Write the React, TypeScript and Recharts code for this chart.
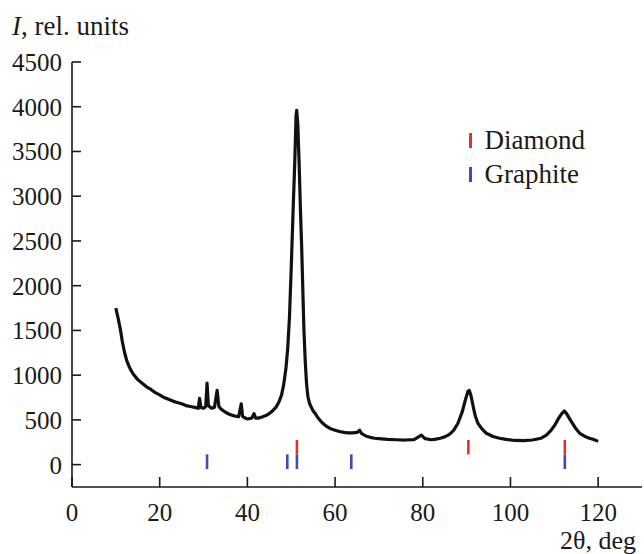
import React from "react";
import { LineChart, Line, XAxis, YAxis, ReferenceLine } from "recharts";

// 2θ (deg) and intensity (rel. units)
const twoTheta = [
  10, 10.5, 11, 11.5, 12, 12.5, 13, 13.5, 14, 15, 16, 17, 18, 19, 20, 21, 22, 23, 24, 25,
  26, 27, 28, 28.8, 29.1, 29.4, 30, 30.5, 30.8, 31.1, 31.8, 32.5, 33.1, 33.5, 34, 35, 36,
  37, 38, 38.6, 38.9, 39.5, 40, 41, 41.5, 41.9, 42.5, 43.5, 44.5, 45.5, 46.5, 47.2, 47.8,
  48.3, 48.8, 49.2, 49.6, 50, 50.4, 50.8, 51.1, 51.25, 51.5, 51.8, 52.1, 52.4, 52.7, 52.9,
  53.2, 53.5, 53.8, 54.2, 54.6, 55, 55.5, 56, 57, 58, 59, 60, 61, 62, 63, 64, 65, 65.6, 66,
  67, 68, 69, 70, 72, 74, 76, 78, 79.7, 80.5, 82, 83, 84, 85, 86, 87, 88, 89, 89.7, 90.3,
  90.6, 91, 91.5, 92, 92.6, 93.5, 94.5, 96, 97.5, 99, 101, 103, 105, 107, 108.2, 109.2,
  110.1, 111, 111.7, 112.3, 112.8, 113.4, 113.9, 114.8, 115.8, 117, 118, 119, 120,
];
const intensity = [
  1750, 1640, 1520, 1370, 1250, 1160, 1100, 1050, 1010, 950, 910, 870, 840, 805, 780, 750,
  730, 710, 695, 680, 660, 650, 640, 630, 740, 640, 630, 650, 910, 660, 630, 640, 830, 650,
  620, 585, 560, 545, 535, 680, 540, 520, 510, 520, 570, 520, 520, 535, 555, 590, 640, 700,
  780, 900, 1080, 1300, 1650, 2200, 2800, 3370, 3900, 3960, 3800, 3370, 2850, 2400, 1850,
  1500, 1150, 900, 760, 680, 640, 600, 570, 530, 470, 430, 400, 385, 370, 360, 355, 355,
  360, 385, 350, 320, 305, 295, 290, 282, 278, 275, 280, 330, 290, 278, 285, 295, 310, 335,
  380, 460, 590, 720, 820, 830, 770, 650, 540, 460, 400, 350, 315, 295, 282, 270, 268, 275,
  295, 330, 380, 440, 520, 570, 600, 570, 520, 480, 410, 350, 315, 295, 280, 260,
];

const diamondPeaks = [51.3, 90.4, 112.4];
const graphitePeaks = [30.8, 49.1, 51.3, 63.7, 112.4];
const diamondSpan = [115, 275];
const graphiteSpan = [-50, 115];

const xTicks = [0, 20, 40, 60, 80, 100, 120];
const yTicks = [0, 500, 1000, 1500, 2000, 2500, 3000, 3500, 4000, 4500];

const RED = "#e2302c";
const BLUE = "#3d4cae";
const FONT = '"Liberation Serif", "Times New Roman", serif';

const data = twoTheta.map((x, i) => ({ x, y: intensity[i] }));

export default function App() {
  const tickStyle = { fontSize: 25, fill: "#1a1a1a", fontFamily: FONT };
  return (
    <div
      style={{
        position: "absolute",
        left: 0,
        top: 0,
        width: 644,
        height: 554,
        fontFamily: FONT,
        color: "#1a1a1a",
        background: "#fff",
      }}
    >
      <LineChart
        width={644}
        height={554}
        data={data}
        margin={{ top: 62, right: 2, bottom: 37, left: 0 }}
      >
        <XAxis
          dataKey="x"
          type="number"
          domain={[0, 130]}
          ticks={xTicks}
          height={30}
          tickSize={-10}
          tickMargin={26}
          tick={tickStyle}
          axisLine={{ stroke: "#1a1a1a", strokeWidth: 1.6 }}
          tickLine={{ stroke: "#1a1a1a", strokeWidth: 1.6 }}
          allowDataOverflow
        />
        <YAxis
          type="number"
          domain={[-250, 4500]}
          ticks={yTicks}
          width={72}
          tickSize={-9}
          tickMargin={19}
          tick={tickStyle}
          axisLine={{ stroke: "#1a1a1a", strokeWidth: 1.6 }}
          tickLine={{ stroke: "#1a1a1a", strokeWidth: 1.6 }}
          allowDataOverflow
        />
        <Line
          dataKey="y"
          type="linear"
          stroke="#111"
          strokeWidth={3.2}
          strokeLinejoin="round"
          dot={false}
          isAnimationActive={false}
        />
        {graphitePeaks.map((p, i) => (
          <ReferenceLine
            key={`g-${i}`}
            segment={[
              { x: p, y: graphiteSpan[0] },
              { x: p, y: graphiteSpan[1] },
            ]}
            stroke={BLUE}
            strokeWidth={2.6}
          />
        ))}
        {diamondPeaks.map((p, i) => (
          <ReferenceLine
            key={`d-${i}`}
            segment={[
              { x: p, y: diamondSpan[0] },
              { x: p, y: diamondSpan[1] },
            ]}
            stroke={RED}
            strokeWidth={2.6}
          />
        ))}
      </LineChart>

      <div style={{ position: "absolute", left: 12, top: 11, fontSize: 27, lineHeight: "30px", whiteSpace: "nowrap" }}>
        <i>I</i>, rel. units
      </div>
      <div style={{ position: "absolute", left: 560, top: 526, fontSize: 26, lineHeight: "30px", whiteSpace: "nowrap" }}>
        2θ, deg
      </div>

      <div style={{ position: "absolute", left: 469, top: 123, fontSize: 27, lineHeight: "30px", whiteSpace: "nowrap" }}>
        <div style={{ display: "flex", alignItems: "center", height: 34 }}>
          <span style={{ display: "inline-block", width: 2.6, height: 15, background: RED, marginRight: 13 }} />
          Diamond
        </div>
        <div style={{ display: "flex", alignItems: "center", height: 34 }}>
          <span style={{ display: "inline-block", width: 2.6, height: 15, background: BLUE, marginRight: 13 }} />
          Graphite
        </div>
      </div>
    </div>
  );
}
